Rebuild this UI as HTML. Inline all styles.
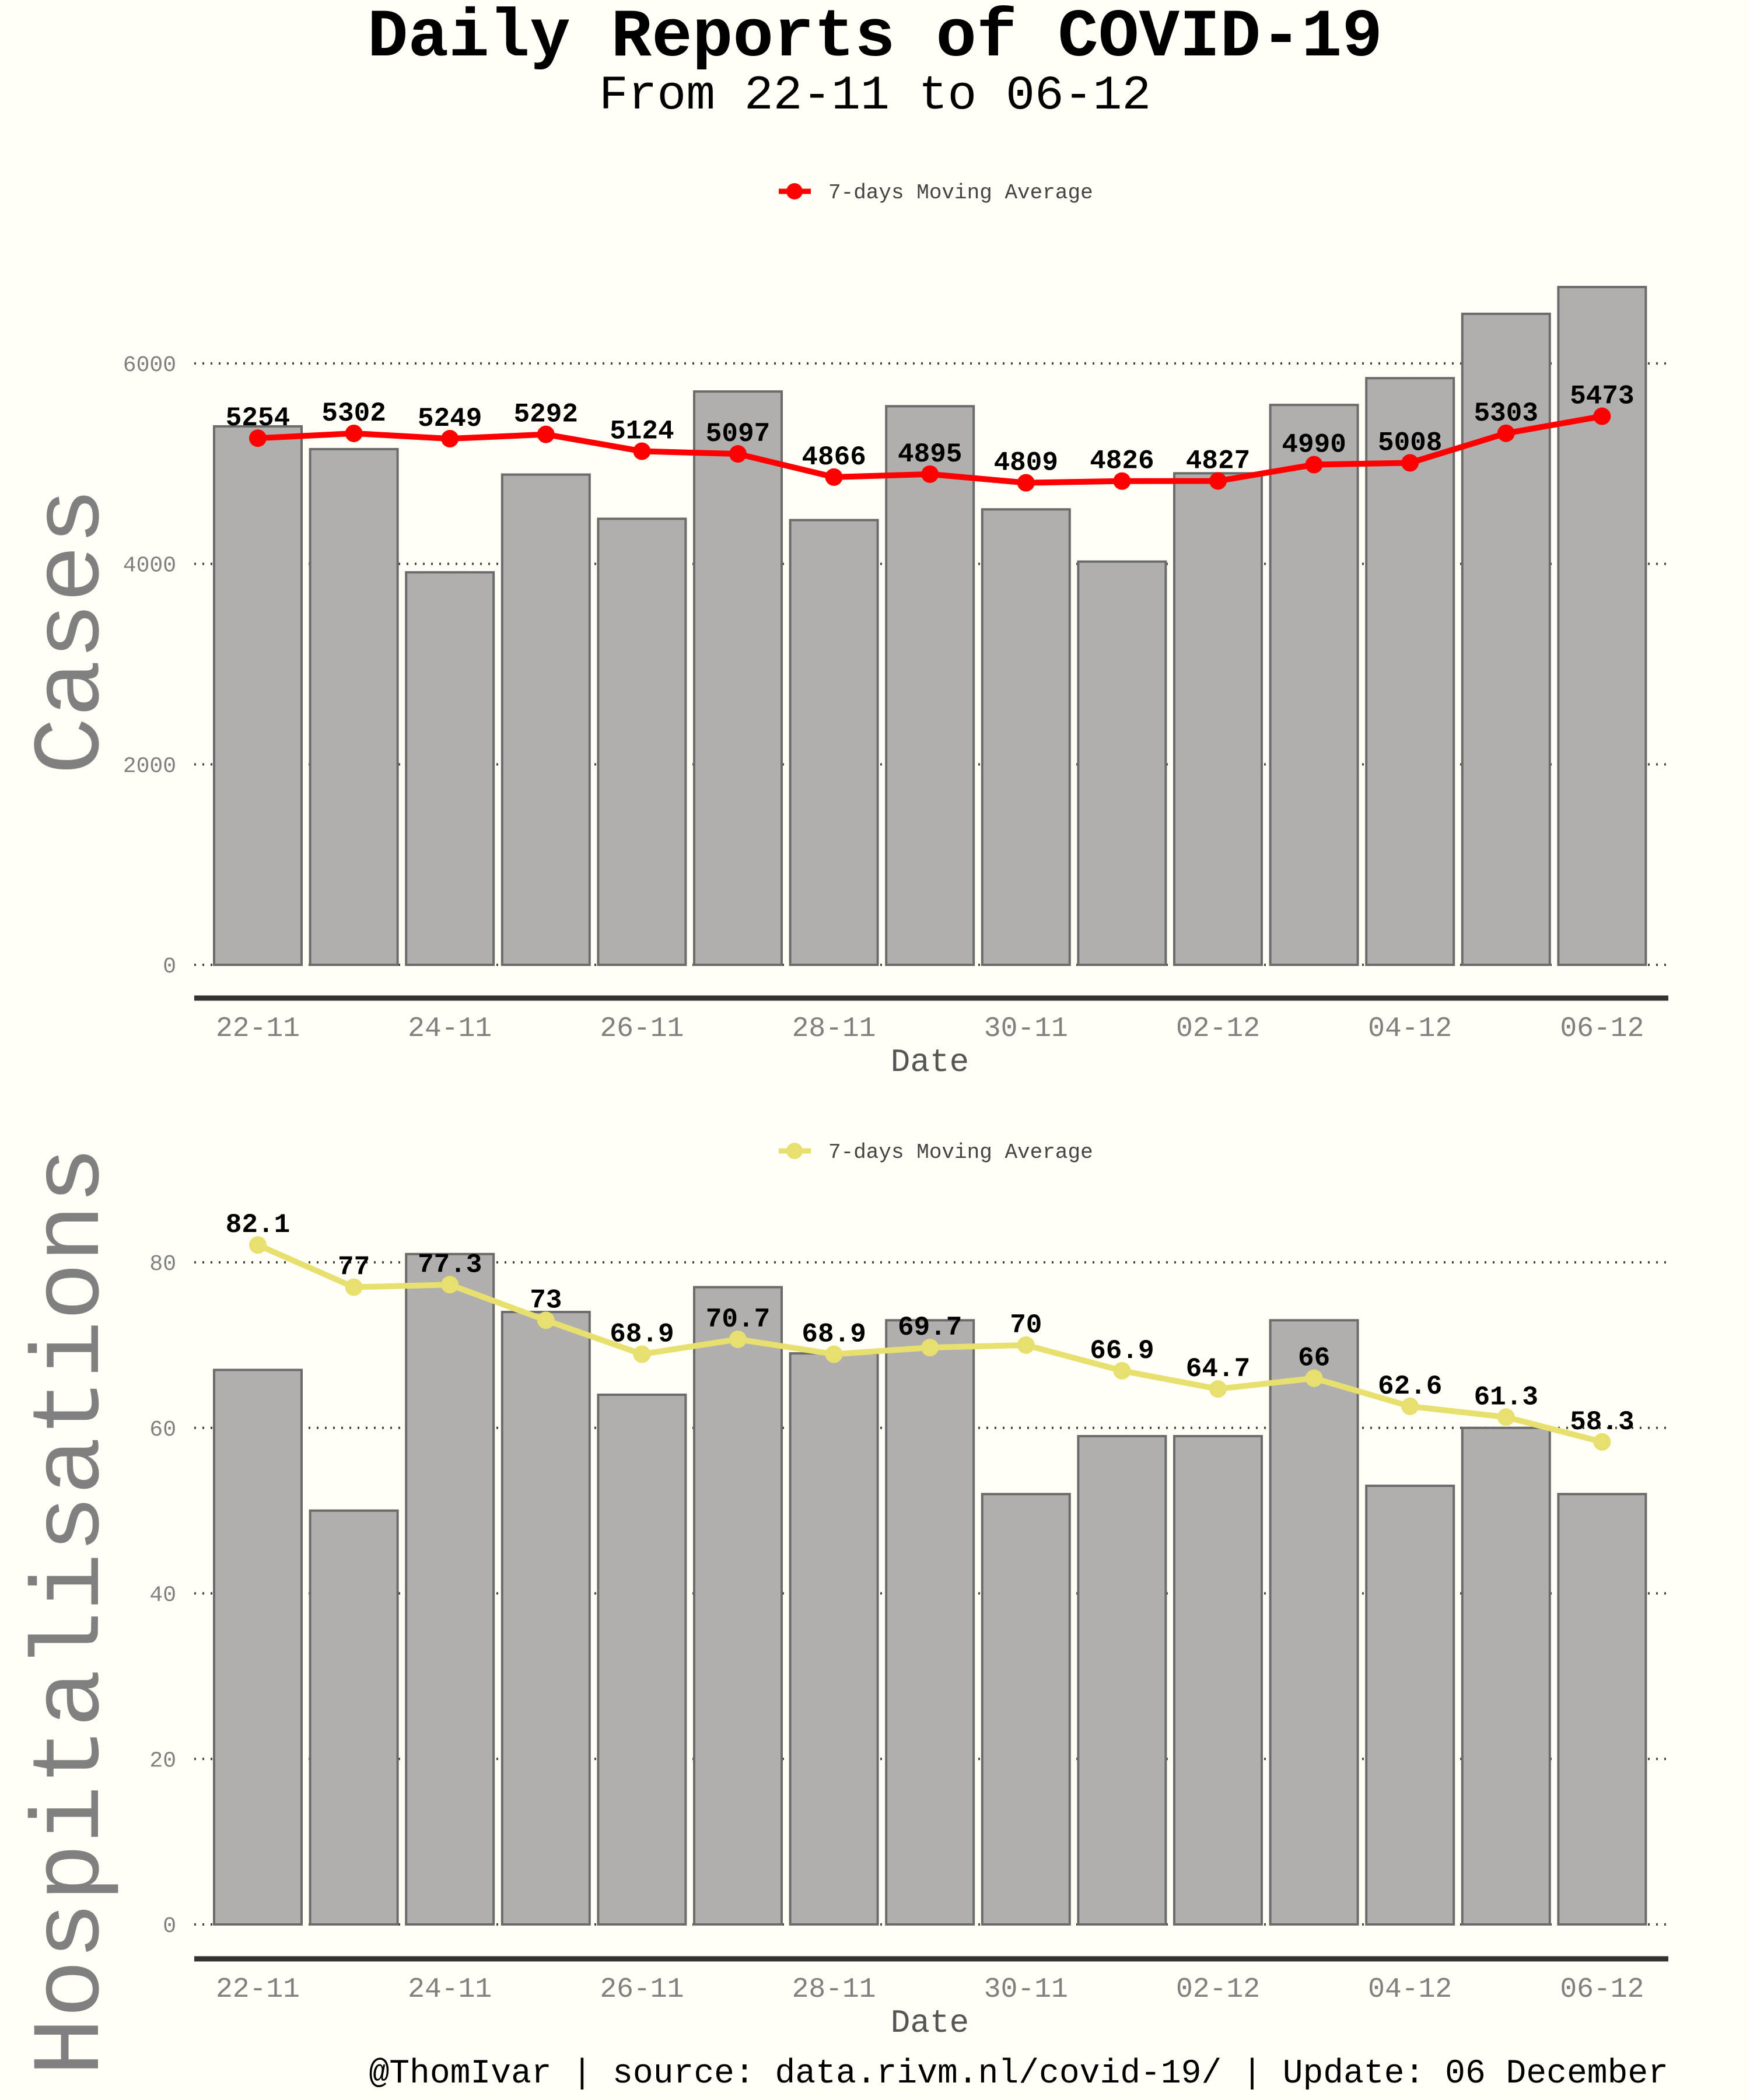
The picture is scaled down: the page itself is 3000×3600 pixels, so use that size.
<!DOCTYPE html>
<html><head><meta charset="utf-8"><style>
html,body{margin:0;padding:0;background:#fffff7;}
svg{display:block;font-family:"Liberation Mono",monospace;}
</style></head><body>
<svg id="chart" width="3000" height="3600" viewBox="0 0 3000 3600" xmlns="http://www.w3.org/2000/svg">
<rect width="3000" height="3600" fill="#fffff7"/>
<text x="1500" y="95" text-anchor="middle" font-size="116" font-weight="bold" fill="#000">Daily Reports of COVID-19</text>
<text x="1500" y="186" text-anchor="middle" font-size="83" fill="#000">From 22-11 to 06-12</text>
<text x="2860" y="3570" text-anchor="end" font-size="58" fill="#000">@ThomIvar | source: data.rivm.nl/covid-19/ | Update: 06 December</text>
<g id="top"></g>
<g id="bot"></g>
</svg>
<script>
const dates = ["22-11","23-11","24-11","25-11","26-11","27-11","28-11","29-11","30-11","01-12","02-12","03-12","04-12","05-12","06-12"];
const tickDates = ["22-11","24-11","26-11","28-11","30-11","02-12","04-12","06-12"];
const casesDaily = [5372,5145,3916,4891,4450,5720,4437,5573,4544,4023,4904,5586,5853,6495,6762];
const casesAvg = [5254,5302,5249,5292,5124,5097,4866,4895,4809,4826,4827,4990,5008,5303,5473];
const casesTicks = [0,2000,4000,6000];
const hospDaily = [67,50,81,74,64,77,69,73,52,59,59,73,53,60,52];
const hospAvg = [82.1,77,77.3,73,68.9,70.7,68.9,69.7,70,66.9,64.7,66,62.6,61.3,58.3];
const hospTicks = [0,20,40,60,80];

const NS="http://www.w3.org/2000/svg";
function mk(parent,tag,attrs,text){const e=document.createElementNS(NS,tag);for(const k in attrs)e.setAttribute(k,attrs[k]);if(text!==undefined)e.textContent=text;parent.appendChild(e);return e;}

function panel(g,cfg){
  const band=164.6;
  const xc=i=>442+band*i;
  const y=v=>cfg.zeroY-(v/cfg.maxV)*(cfg.zeroY-cfg.topY);
  cfg.ticks.forEach(t=>{
    const l=mk(g,'line',{x1:333,x2:2860,y1:y(t),y2:y(t),stroke:'#444','stroke-width':4,'stroke-dasharray':'3 11'});
    
    
    const tx=mk(g,'text',{x:302,y:y(t)+13,'text-anchor':'end','font-size':38,fill:'#808080'},String(t));
    
    
  });
  cfg.daily.forEach((v,i)=>{
    const r=mk(g,'rect',{x:xc(i)-75,y:y(v),width:150,height:cfg.zeroY-y(v),fill:'#b0afae',stroke:'#6b6b6b','stroke-width':4});
    
    
  });
  const ax=mk(g,'line',{x1:333,x2:2860,y1:cfg.axisY,y2:cfg.axisY,stroke:'#333','stroke-width':9});
  
  
  tickDates.forEach(d=>{
    const i=dates.indexOf(d);
    const t=mk(g,'text',{x:xc(i),y:cfg.axisY+65,'text-anchor':'middle','font-size':48,fill:'#808080'},d);
    
    
  });
  const xt=mk(g,'text',{x:1594,y:cfg.axisY+125,'text-anchor':'middle','font-size':56,fill:'#555'},'Date');
  
  
  const yt=mk(g,'text',{x:0,y:0,'text-anchor':'middle','font-size':cfg.yTitleSize,fill:'#808080',transform:`translate(168,${cfg.yTitleY}) rotate(-90)`},cfg.yTitle);
  
  
  const pts=cfg.avg.map((v,i)=>xc(i)+','+y(v)).join(' ');
  const pl=mk(g,'polyline',{points:pts,fill:'none',stroke:cfg.color,'stroke-width':10,'stroke-linejoin':'round'});
  
  
  cfg.avg.forEach((v,i)=>{
    const c=mk(g,'circle',{cx:xc(i),cy:y(v),r:15,fill:cfg.color});
    
    
    const t=mk(g,'text',{x:xc(i),y:y(v)-22,'text-anchor':'middle','font-size':46,'font-weight':'bold',fill:'#000'},String(v));
    
    
  });
  const lg=mk(g,'g',{});
  
  
  mk(lg,'line',{x1:1335,x2:1390,y1:cfg.legendY,y2:cfg.legendY,stroke:cfg.color,'stroke-width':9});
  mk(lg,'circle',{cx:1362,cy:cfg.legendY,r:14,fill:cfg.color});
  mk(lg,'text',{x:1420,y:cfg.legendY+12,'font-size':36,fill:'#444'},'7-days Moving Average');
}
panel(document.getElementById('top'),{daily:casesDaily,avg:casesAvg,ticks:casesTicks,zeroY:1654,topY:623,maxV:6000,axisY:1711,color:'#ff0000',yTitle:'Cases',yTitleY:1082,yTitleSize:164,legendY:328});
panel(document.getElementById('bot'),{daily:hospDaily,avg:hospAvg,ticks:hospTicks,zeroY:3299,topY:2164,maxV:80,axisY:3358,color:'#e8e06e',yTitle:'Hospitalisations',yTitleY:2762,yTitleSize:166,legendY:1973});
</script>
</body></html>
